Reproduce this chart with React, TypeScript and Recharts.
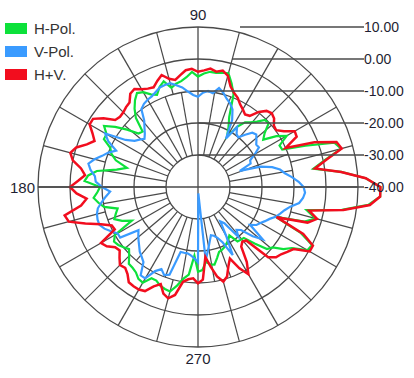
import React from 'react';
import { RadarChart, Radar, PolarGrid, PolarAngleAxis, PolarRadiusAxis, Customized } from 'recharts';

const W = 414;
const H = 378;
const CX = 198;
const CY = 187;
const INNER = 32;
const OUTER = 160;
const MID = 96;

const angles = [
  0, 3, 6, 9, 12, 15, 18, 21, 24, 27, 30, 33, 36, 39, 42, 45, 48, 51, 54, 57,
  60, 63, 66, 69, 72, 75, 78, 81, 84, 87, 90, 93, 96, 99, 102, 105, 108, 111, 114, 117,
  120, 123, 126, 129, 132, 135, 138, 141, 144, 147, 150, 153, 156, 159, 162, 165, 168, 171, 174, 177,
  180, 183, 186, 189, 192, 195, 198, 201, 204, 207, 210, 213, 216, 219, 222, 225, 228, 231, 234, 237,
  240, 243, 246, 249, 252, 255, 258, 261, 264, 267, 270, 273, 276, 279, 282, 285, 288, 291, 294, 297,
  300, 303, 306, 309, 312, 315, 318, 321, 324, 327, 330, 333, 336, 339, 342, 345, 348, 351, 354, 357,
];

const hvPol = [
  17, 12.5, 5, -3, 1, 6.5, 5.5, -1, -10, -5.4, -5.1, -8, -9.8, -9.5, -8, -7.4, -8, -9.8, -12.5, -13,
  -12, -11, -9.5, -8.5, -7, -4, -2.8, -3.5, -2.8, -3.5, -4, -3, -3.3, -4.6, -5.8, -5, -3.2, -4.5, -5.9, -5.5,
  -4.7, -3.5, -4, -6, -6.4, -7, -7.2, -6.7, -3.5, -0.9, -0.9, -3, -4.6, -2.8, 0, 1.3, 0, -3, -4.5, -2.5,
  0, -2, -5, -3, 2.6, 1.8, -3, -7.5, -10.5, -10.8, -5, -6, -8, -8.5, -7, -5.5, -6, -5, -3.2, -3,
  -3, -3.5, -6, -7.5, -5, -4, -5.5, -10, -11, -11.4, -9.9, -11, -18, -14.8, -11.4, -9.4, -10.6, -13.5, -15.5, -11.5,
  -8.5, -12, -17, -18, -17.5, -9, -7.2, -6.6, -5.5, -4.4, 0.3, 0.3, -4, -13.7, -4, -1.5, -4.5, 6, 14, 17,
];

const hPol = [
  17, 12.5, 5, -3.5, 0.5, 6.3, 4.8, -4, -11.2, -11.4, -8, -10.8, -14.8, -13.2, -10.3, -10.4, -12.5, -14, -15, -17.6,
  -21.9, -19, -16, -9, -6, -3.2, -3.5, -3.9, -3.8, -4.5, -5.5, -4, -5.5, -6.5, -7, -7.9, -5.3, -6.5, -8.5, -7.5,
  -5.8, -5, -6.5, -8.5, -11, -15.5, -15, -11.5, -8, -5, -7, -7, -10, -11, -13, -17, -14, -8, -5.5, -4.5,
  -9.4, -8.5, -7.2, -8.5, -10, -14, -13, -12, -14, -16.8, -10, -8.7, -9.2, -10.1, -11, -9.6, -7.7, -7.5, -7, -5.8,
  -5.5, -8, -8, -7, -6.5, -6.2, -8.5, -11, -12.5, -18.5, -13.5, -14, -16.5, -15.5, -15.2, -17, -18.7, -19, -19.5, -20.3,
  -21, -22, -19, -18.8, -18.6, -15, -11, -10, -7, -5, -0.5, 0, -5, -14, -5, -2, -5.3, 5.5, 13.5, 17,
];

const vPol = [
  -7, -8.5, -10.5, -12.5, -13.8, -16, -19.5, -26, -22, -21.7, -19.5, -17.3, -17.5, -16.5, -15.5, -16, -18, -20, -19.5, -17.6,
  -22.5, -16.5, -13.5, -12, -11, -9.5, -8.4, -10.3, -9.8, -10.5, -11.8, -11.2, -10, -8.5, -7.5, -6.4, -6.5, -6.7, -7.5, -8.2,
  -8.5, -9, -9.9, -13.3, -15, -16.5, -17.5, -16.5, -15.5, -13, -6.5, -8.5, -12, -10, -8.5, -6.5, -5, -6, -7.6, -8,
  -10, -12.5, -11, -9.5, -8, -7.3, -7, -7, -8, -9.5, -11, -11, -17, -16, -15, -14, -12.8, -12, -11, -7.1,
  -7, -10.5, -11.9, -10.5, -11.2, -19, -19, -19, -18.5, -17.7, -16.5, -38, -17, -20, -22.5, -24.4, -24, -23, -21, -16.1,
  -22.5, -27.2, -26, -20, -22, -21, -17, -14, -19.9, -18.2, -17.5, -16.5, -15.5, -14, -13, -12, -10.5, -8, -7, -6.5,
];

const seriesKeys = ['h', 'v', 'hv'];
const seriesNames = ['H-Pol.', 'V-Pol.', 'H+V.'];
const seriesColors = ['#0de13a', '#3a9bff', '#f20d1e'];
const seriesWidths = [2.2, 2.2, 2.5];

const angleTicks = [90, 180, 270];
const radiusTicks = [-40, -30, -20, -10, 0, 10];
const gridRadii = [32, 64, 96, 128, 160];
// spokes common to both zones (every 30 degrees) run from the hole to the rim
const mainSpokes = Array.from({ length: 12 }, (_, i) => i * 30);
// outer zone: extra spokes at 15 + 30k; inner zone: extra spokes at 10-degree steps
const outerSpokes = Array.from({ length: 12 }, (_, i) => 15 + i * 30);
const innerSpokes = Array.from({ length: 36 }, (_, i) => i * 10).filter((a) => a % 30 !== 0);

const data = angles.map((a, i) => ({ angle: a, h: hPol[i], v: vPol[i], hv: hvPol[i] }));

const FONT = '"Liberation Sans", Arial, sans-serif';
const GRID = '#4a4a4a';

const AngleTick = (props: any) => {
  const v = props.payload.value;
  let x = CX;
  let y = CY - OUTER - 7;
  let anchor: any = 'middle';
  if (v === 180) {
    x = CX - OUTER - 3;
    y = CY + 6;
    anchor = 'end';
  } else if (v === 270) {
    x = CX;
    y = CY + OUTER + 17;
  }
  return (
    <text x={x} y={y} textAnchor={anchor} fontSize={15} fill="#1f1f33" fontFamily={FONT}>
      {v}
    </text>
  );
};

const RadiusTick = (props: any) => {
  const { y, payload } = props;
  const v = payload.value;
  let startX = CX;
  if (v === -40) startX = CX - OUTER;
  if (v === 0) startX = 232;
  if (v === 10) startX = 240;
  return (
    <g>
      <line x1={startX} y1={y} x2={364} y2={y} stroke={GRID} strokeWidth={1.3} />
      <text x={364} y={y + 5} textAnchor="start" fontSize={14} fill="#1f1f33" fontFamily={FONT}>
        {v.toFixed(2)}
      </text>
    </g>
  );
};

const spoke = (a: number, r1: number, r2: number) => {
  const rad = Math.PI / 180;
  return (
    <line
      key={`${a}-${r1}`}
      x1={CX + r1 * Math.cos(-a * rad)}
      y1={CY + r1 * Math.sin(-a * rad)}
      x2={CX + r2 * Math.cos(-a * rad)}
      y2={CY + r2 * Math.sin(-a * rad)}
      stroke={GRID}
      strokeWidth={1.2}
    />
  );
};

const ExtraGrid = () => (
  <g>
    {innerSpokes.map((a) => spoke(a, INNER, MID))}
    {outerSpokes.map((a) => spoke(a, MID, OUTER))}
    <line x1={CX} y1={CY - INNER} x2={CX} y2={CY + INNER} stroke={GRID} strokeWidth={1.3} />
  </g>
);

export default function App() {
  return (
    <div style={{ position: 'absolute', left: 0, top: 0, width: W, height: H, background: '#fff' }}>
      <RadarChart
        width={W}
        height={H}
        data={data}
        cx={CX}
        cy={CY}
        innerRadius={INNER}
        outerRadius={OUTER}
        startAngle={0}
        endAngle={360}
        margin={{ top: 0, right: 0, bottom: 0, left: 0 }}
      >
        <PolarGrid
          gridType="circle"
          polarRadius={gridRadii}
          polarAngles={mainSpokes}
          stroke={GRID}
          strokeWidth={1.3}
          strokeOpacity={1}
        />
        <Customized component={ExtraGrid} />
        <PolarAngleAxis
          type="number"
          dataKey="angle"
          domain={[0, 360]}
          ticks={angleTicks}
          axisLine={false}
          tickLine={false}
          tick={AngleTick}
        />
        <PolarRadiusAxis
          angle={90}
          type="number"
          domain={[-30, 10]}
          allowDataOverflow
          ticks={radiusTicks}
          axisLine={false}
          tickLine={false}
          tick={RadiusTick}
        />
        {seriesKeys.map((k, i) => (
          <Radar
            key={k}
            name={seriesNames[i]}
            dataKey={k}
            stroke={seriesColors[i]}
            strokeWidth={seriesWidths[i]}
            fill="none"
            fillOpacity={0}
            dot={false}
            isAnimationActive={false}
          />
        ))}
      </RadarChart>
      <div style={{ position: 'absolute', left: 5, top: 17 }}>
        {seriesNames.map((n, i) => (
          <div key={n} style={{ display: 'flex', alignItems: 'center', height: 23 }}>
            <span style={{ display: 'inline-block', width: 22, height: 11, background: seriesColors[i] }} />
            <span style={{ marginLeft: 7, fontSize: 15, color: '#333', fontFamily: FONT }}>{n}</span>
          </div>
        ))}
      </div>
    </div>
  );
}
